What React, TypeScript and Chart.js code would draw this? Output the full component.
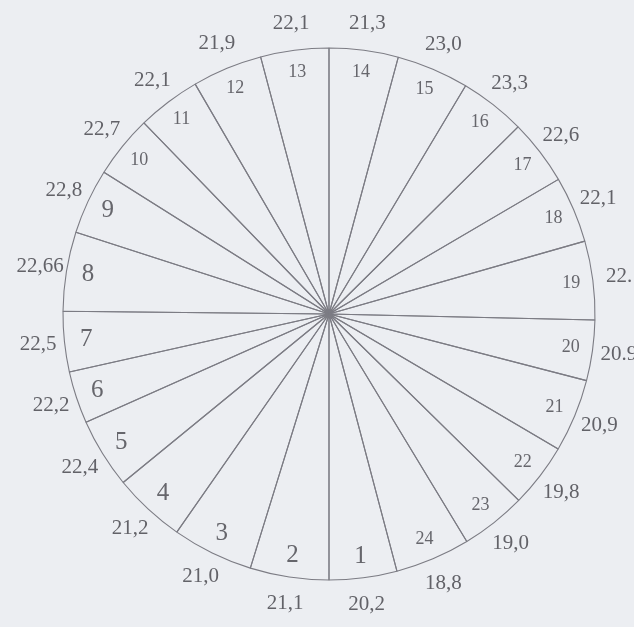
import React, { useEffect, useRef } from "react";
import { Chart, registerables } from "chart.js";

Chart.register(...registerables);

// Sector numbers (clockwise, starting at sector 1 at the bottom)
const sectors = [
  "1", "2", "3", "4", "5", "6", "7", "8", "9", "10", "11", "12",
  "13", "14", "15", "16", "17", "18", "19", "20", "21", "22", "23", "24",
];

// Angular width of each sector in degrees
const sectorAngles = [
  14.8, 17.2, 17.7, 15.8, 15.3, 11.4, 13.2, 17.3, 14.3, 13.7, 13.9, 15.3,
  14.9, 15.1, 15.8, 14.4, 14.3, 14.5, 17.2, 13.2, 16.0, 14.0, 14.3, 16.4,
];

// Value written outside each sector
const sectorValues = [
  "20,2", "21,1", "21,0", "21,2", "22,4", "22,2", "22,5", "22,66", "22,8", "22,7", "22,1", "21,9",
  "22,1", "21,3", "23,0", "23,3", "22,6", "22,1", "22.", "20.9", "20,9", "19,8", "19,0", "18,8",
];

// Angle (degrees clockwise from top) where sector 1 starts
const START_ANGLE = 165.2;

const labelPlugin = {
  id: "sectorLabels",
  afterDatasetsDraw(chart: any) {
    const ctx = chart.ctx;
    const meta = chart.getDatasetMeta(0);
    ctx.save();
    ctx.textAlign = "center";
    ctx.textBaseline = "middle";
    meta.data.forEach((arc: any, i: number) => {
      const p = arc.getProps(["x", "y", "startAngle", "endAngle", "outerRadius"], true);
      const mid = (p.startAngle + p.endAngle) / 2;
      const rIn = p.outerRadius * 0.918;
      const rOut = p.outerRadius * 1.1;
      const lab = sectors[i];
      ctx.fillStyle = "#66666c";
      ctx.font = (lab.length === 1 ? "25px" : "18px") + " 'Liberation Serif', 'DejaVu Serif', serif";
      ctx.fillText(lab, p.x + Math.cos(mid) * rIn, p.y + Math.sin(mid) * rIn);
      ctx.fillStyle = "#626268";
      ctx.font = "21px 'Liberation Serif', 'DejaVu Serif', serif";
      ctx.fillText(sectorValues[i], p.x + Math.cos(mid) * rOut, p.y + Math.sin(mid) * rOut);
    });
    ctx.restore();
  },
};

export default function App() {
  const ref = useRef<HTMLCanvasElement | null>(null);
  useEffect(() => {
    document.body.style.background = "#eceef2";
    document.body.style.margin = "0";
    if (!ref.current) return;
    const chart = new Chart(ref.current, {
      type: "pie",
      data: {
        labels: sectors,
        datasets: [
          {
            data: sectorAngles,
            backgroundColor: "rgba(0,0,0,0)",
            borderColor: "#7c7c84",
            borderWidth: 1.1,
          },
        ],
      },
      options: {
        animation: false,
        responsive: true,
        maintainAspectRatio: false,
        rotation: START_ANGLE,
        radius: 266,
        layout: { padding: { left: 63, right: 39, top: 48, bottom: 47 } },
        plugins: {
          legend: { display: false },
          title: { display: false },
          tooltip: { enabled: false },
        },
      },
      plugins: [labelPlugin],
    });
    return () => chart.destroy();
  }, []);
  return (
    <div style={{ position: "relative", width: 634, height: 627 }}>
      <canvas ref={ref} />
    </div>
  );
}
